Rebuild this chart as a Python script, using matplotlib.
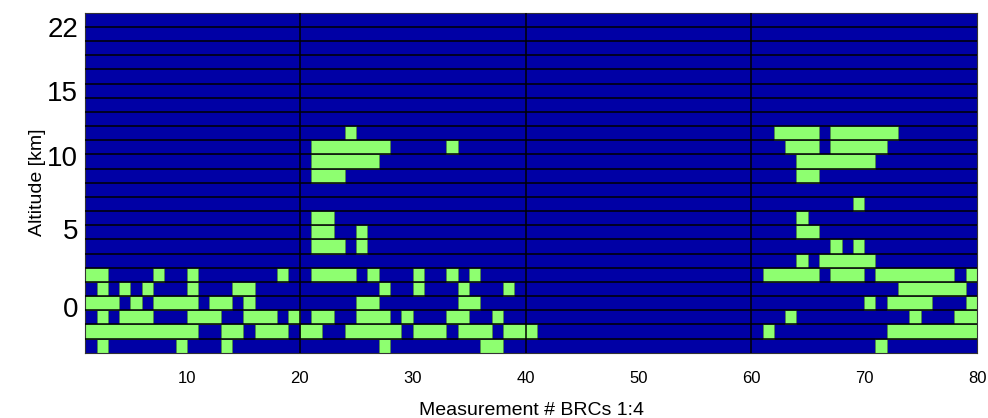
import matplotlib
matplotlib.use("Agg")
import matplotlib.pyplot as plt

plt.rcParams['font.family'] = ['Liberation Sans', 'DejaVu Sans']

# cloud cells per altitude row (top row first), as (first, last) measurement #
cloud_rows = [
    [], [], [], [], [], [], [], [],
    [(24, 24), (62, 65), (67, 72)],
    [(21, 27), (33, 33), (63, 65), (67, 71)],
    [(21, 26), (64, 70)],
    [(21, 23), (64, 65)],
    [],
    [(69, 69)],
    [(21, 22), (64, 64)],
    [(21, 22), (25, 25), (64, 65)],
    [(21, 23), (25, 25), (67, 67), (69, 69)],
    [(64, 64), (66, 70)],
    [(1, 2), (7, 7), (10, 10), (18, 18), (21, 24), (26, 26), (30, 30), (33, 33),
     (35, 35), (61, 65), (67, 69), (71, 77), (79, 79)],
    [(2, 2), (4, 4), (6, 6), (10, 10), (14, 15), (27, 27), (30, 30), (34, 34),
     (38, 38), (73, 78)],
    [(1, 3), (5, 5), (7, 10), (12, 13), (15, 15), (25, 26), (34, 35), (70, 70),
     (72, 75), (79, 79)],
    [(2, 2), (4, 6), (10, 12), (15, 17), (19, 19), (21, 22), (25, 27), (29, 29),
     (33, 34), (37, 37), (63, 63), (74, 74), (78, 79)],
    [(1, 10), (13, 14), (16, 18), (20, 21), (24, 28), (30, 32), (34, 36), (38, 40),
     (61, 61), (72, 79)],
    [(2, 2), (9, 9), (13, 13), (27, 27), (36, 37), (71, 71)],
]
n_meas = 80
alt_labels = ['0', '5', '10', '15', '22']
alt_tick_rows = [3.2, 8.75, 13.85, 18.45, 23.0]
x_ticks = [10, 20, 30, 40, 50, 60, 70, 80]

blue = '#0000A5'
green = '#8EFF70'

fig = plt.figure(figsize=(9.88, 4.18), dpi=100)
ax = fig.add_axes([0.0863, 0.1562, 0.9026, 0.8134])
ax.set_facecolor(blue)

n_rows = len(cloud_rows)
for r, runs in enumerate(cloud_rows):
    yc = n_rows - 1 - r + 0.5
    for a, b in runs:
        ax.barh(yc, b - a + 1, left=a, height=1.0, color=green,
                edgecolor='#4f8a4f', linewidth=0.7, zorder=2)

ax.hlines(range(1, n_rows), 1, n_meas, colors='black', linewidth=1.1, zorder=3)
ax.vlines([20, 40, 60], 0, n_rows, colors='black', linewidth=1.1, zorder=3)

ax.set_xlim(1, n_meas)
ax.set_ylim(0, n_rows)
ax.set_xticks(x_ticks)
ax.set_yticks(alt_tick_rows)
ax.set_yticklabels(alt_labels)
ax.tick_params(axis='x', length=0, pad=13, labelsize=12)
ax.tick_params(axis='y', length=0, pad=5, labelsize=20)
for s in ax.spines.values():
    s.set_color('#333333')
    s.set_linewidth(0.8)

ax.set_xlabel('Measurement # BRCs 1:4', fontsize=14, labelpad=12)
ax.set_ylabel('Altitude [km]', fontsize=14)
ax.yaxis.set_label_coords(-0.044, 0.5)

fig.savefig('out.png', dpi=100)
